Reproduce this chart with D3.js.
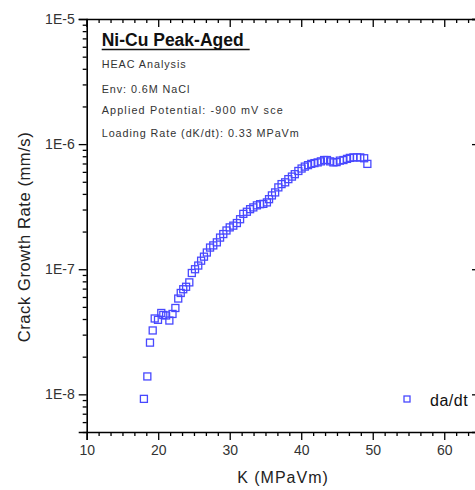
<!DOCTYPE html>
<html>
<head>
<meta charset="utf-8">
<script src="https://cdn.jsdelivr.net/npm/d3@7"></script>
<style>
  body { margin: 0; background: #fff; }
  svg { display: block; font-family: "Liberation Sans", Arial, sans-serif; }
</style>
</head>
<body>
<script>
// K values (MPa√m) and crack growth rate (mm/s)
const K = [18.0, 18.48, 18.85, 19.23, 19.51, 19.97, 20.43, 20.71, 21.1, 21.56,
  22.0, 22.4, 22.8, 23.15, 23.5, 23.9, 24.35, 24.7, 25.15, 25.6,
  26.0, 26.4, 26.8, 27.25, 27.7, 28.2, 28.65, 29.1, 29.55, 30.0,
  30.5, 31.0, 31.45, 31.9, 32.4, 32.85, 33.3, 33.8, 34.25, 34.7,
  35.2, 35.5, 35.9, 36.35, 36.8, 37.25, 37.75, 38.2, 38.7, 39.1,
  39.6, 40.05, 40.5, 40.95, 41.4, 41.85, 42.3, 42.75, 43.2, 43.6,
  44.05, 44.5, 44.95, 45.4, 45.9, 46.4, 46.8, 47.3, 47.8, 48.25,
  48.8, 49.25];
const rate = [9.2e-9, 1.39e-8, 2.59e-8, 3.24e-8, 4.04e-8, 3.94e-8, 4.47e-8, 4.31e-8, 4.27e-8, 3.89e-8,
  4.39e-8, 4.9e-8, 5.83e-8, 6.46e-8, 6.92e-8, 7.24e-8, 7.85e-8, 9.33e-8, 1.0e-7, 1.07e-7,
  1.17e-7, 1.26e-7, 1.36e-7, 1.49e-7, 1.55e-7, 1.64e-7, 1.79e-7, 1.91e-7, 2.04e-7, 2.16e-7,
  2.23e-7, 2.34e-7, 2.51e-7, 2.77e-7, 2.88e-7, 3.02e-7, 3.12e-7, 3.24e-7, 3.31e-7, 3.33e-7,
  3.42e-7, 3.63e-7, 3.89e-7, 4.11e-7, 4.51e-7, 4.79e-7, 4.95e-7, 5.25e-7, 5.5e-7, 5.75e-7,
  6.1e-7, 6.38e-7, 6.61e-7, 6.79e-7, 6.95e-7, 7.05e-7, 7.14e-7, 7.28e-7, 7.46e-7, 7.46e-7,
  7.28e-7, 7.14e-7, 7.18e-7, 7.38e-7, 7.46e-7, 7.62e-7, 7.76e-7, 7.83e-7, 7.83e-7, 7.83e-7,
  7.71e-7, 6.95e-7];

const xTicks = [10, 20, 30, 40, 50, 60];
const yTicks = [1e-8, 1e-7, 1e-6, 1e-5];
const yTickLabels = ["1E-8", "1E-7", "1E-6", "1E-5"];
const infoLines = ["HEAC Analysis", "Env: 0.6M NaCl", "Applied Potential: -900 mV sce", "Loading Rate (dK/dt): 0.33 MPaVm"];

const W = 475, H = 490;
const svg = d3.select("body").append("svg").attr("width", W).attr("height", H);

const x = d3.scaleLinear().domain([10, 65]).range([86.7, 480]);
const y = d3.scaleLog().domain([5e-9, 1e-5]).range([432, 19]);

// minor ticks
const xMinor = d3.range(10, 65.01, 10 / 6).filter(v => Math.abs(v / 10 - Math.round(v / 10)) > 0.01);
const yMinor = [];
[1e-9, 1e-8, 1e-7, 1e-6].forEach(d => { for (let i = 2; i <= 9; i++) { const v = d * i; if (v >= 5e-9 && v <= 1e-5) yMinor.push(v); } });

const styleAxis = g => {
  g.selectAll(".domain").attr("stroke", "#000").attr("stroke-width", 1.6);
  g.selectAll(".tick line").attr("stroke", "#000").attr("stroke-width", 1.3);
  g.selectAll(".tick text").attr("fill", "#333").attr("font-size", 14);
};

// bottom
svg.append("g").attr("transform", "translate(0,432)")
  .call(d3.axisBottom(x).tickValues(xTicks).tickSize(8).tickPadding(5).tickFormat(d3.format("d")))
  .call(styleAxis).attr("font-family", null);
svg.append("g").attr("transform", "translate(0,432)")
  .call(d3.axisBottom(x).tickValues(xMinor).tickSize(4).tickFormat(""))
  .call(styleAxis).call(g => g.select(".domain").remove());
// top
svg.append("g").attr("transform", "translate(0,19)")
  .call(d3.axisTop(x).tickValues(xTicks).tickSize(-8).tickFormat(""))
  .call(styleAxis);
svg.append("g").attr("transform", "translate(0,19)")
  .call(d3.axisTop(x).tickValues(xMinor).tickSize(-4).tickFormat(""))
  .call(styleAxis).call(g => g.select(".domain").remove());
// left
svg.append("g").attr("transform", "translate(86.7,0)")
  .call(d3.axisLeft(y).tickValues(yTicks).tickSize(8).tickPadding(4).tickFormat((d, i) => yTickLabels[i]))
  .call(styleAxis).attr("font-family", null);
svg.append("g").attr("transform", "translate(86.7,0)")
  .call(d3.axisLeft(y).tickValues(yMinor).tickSize(4).tickFormat(""))
  .call(styleAxis).call(g => g.select(".domain").remove());
// right (mostly outside the window)
svg.append("g").attr("transform", "translate(480,0)")
  .call(d3.axisRight(y).tickValues(yTicks).tickSize(-8).tickFormat(""))
  .call(styleAxis);

// axis titles
svg.append("text").attr("x", 283).attr("y", 483).attr("text-anchor", "middle")
  .attr("font-size", 16).attr("letter-spacing", 1).attr("fill", "#222").text("K (MPaVm)");
svg.append("text").attr("transform", "translate(30,237) rotate(-90)").attr("text-anchor", "middle")
  .attr("font-size", 16.5).attr("letter-spacing", 0.6).attr("fill", "#222").text("Crack Growth Rate (mm/s)");

// data
svg.append("g").selectAll("rect").data(K).join("rect")
  .attr("x", (d, i) => x(d) - 3.5).attr("y", (d, i) => y(rate[i]) - 3.5)
  .attr("width", 7).attr("height", 7)
  .attr("fill", "none").attr("stroke", "#4848ff").attr("stroke-width", 1.3);

// annotation
const title = svg.append("text").attr("x", 101.7).attr("y", 46)
  .attr("font-size", 17.5).attr("font-weight", "bold").attr("fill", "#111").text("Ni-Cu Peak-Aged");
const tw = title.node().getComputedTextLength();
svg.append("line").attr("x1", 101.7).attr("x2", 101.7 + tw + 6).attr("y1", 49.5).attr("y2", 49.5)
  .attr("stroke", "#111").attr("stroke-width", 1.6);
const infoY = [68.3, 92.7, 114, 137.3];
const infoW = [84, 87.7, 181, 197];
svg.append("g").selectAll("text").data(infoLines).join("text")
  .attr("x", 101.7).attr("y", (d, i) => infoY[i])
  .attr("font-size", 10.8).attr("fill", "#333")
  .attr("textLength", (d, i) => infoW[i]).attr("lengthAdjust", "spacing")
  .text(d => d);

// legend
svg.append("rect").attr("x", 404).attr("y", 396).attr("width", 6).attr("height", 6)
  .attr("fill", "none").attr("stroke", "#4848ff").attr("stroke-width", 1.3);
svg.append("text").attr("x", 430).attr("y", 406).attr("font-size", 16).attr("letter-spacing", 0.5)
  .attr("fill", "#111").text("da/dt");
</script>
</body>
</html>
